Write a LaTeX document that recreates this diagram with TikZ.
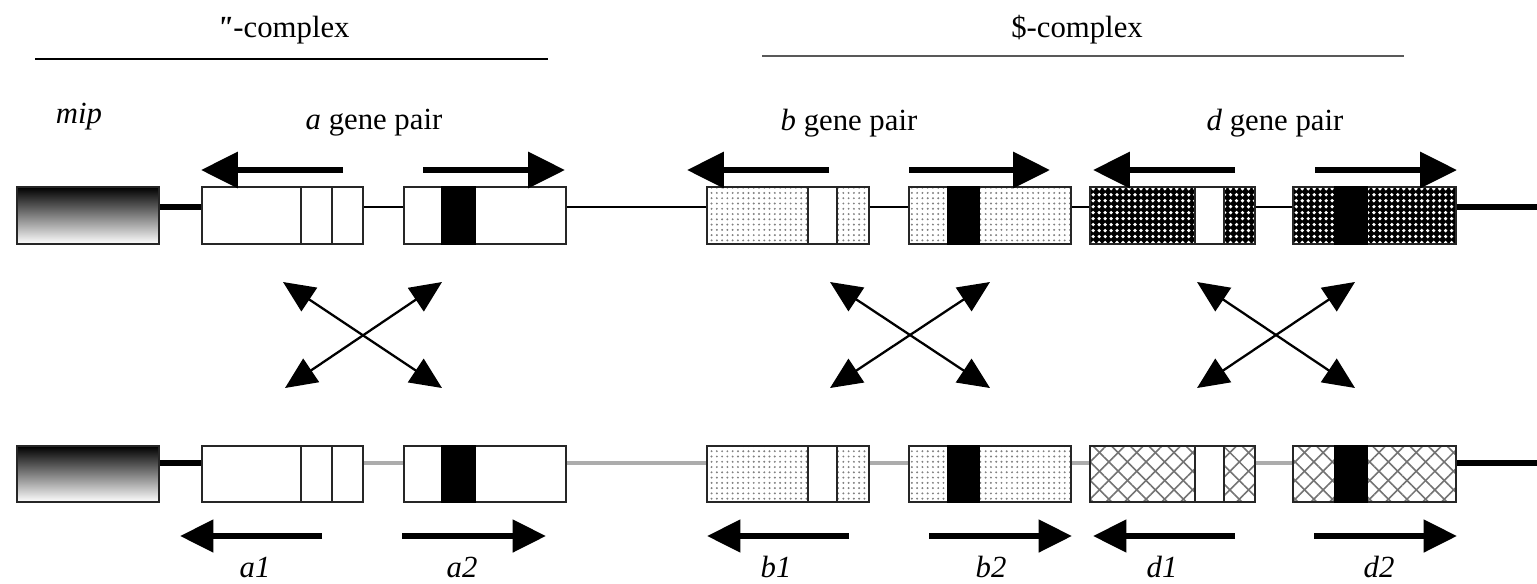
\documentclass[tikz,border=0pt]{standalone}
\usepackage{fontspec}
\setmainfont{Liberation Serif}
\newfontfamily\qfont{Liberation Serif}
\usetikzlibrary{arrows.meta,patterns,patterns.meta,fit,calc}
\begin{document}
\begin{tikzpicture}[x=0.02cm,y=-0.02cm,
  box/.style={draw=black!85, line width=1pt, inner sep=0pt},
  gtext/.style={font=\fontsize{17.5}{20}\selectfont, inner sep=0pt},
  toparrow/.style={line width=3.4pt, -{Triangle[length=21pt,width=20pt]}},
  lowarrow/.style={line width=3.4pt, -{Triangle[length=19pt,width=18pt]}},
  crossarrow/.style={line width=1.3pt, {Triangle[length=18pt,width=16pt]}-{Triangle[length=18pt,width=16pt]}},
  toplink/.style={line width=1.1pt, draw=black},
  lowlink/.style={line width=2pt, draw=gray!65},
  thicklink/.style={line width=3.4pt, draw=black},
  divider/.style={line width=1pt, draw=black!85},
  band/.style={line width=1pt, draw=black!85, fill=white},
  bar/.style={line width=1pt, draw=black, fill=black},
  dotsfill/.style={pattern={Dots[distance=3pt,radius=0.62pt]}, pattern color=gray},
  checkfill/.style={preaction={fill=black}, pattern={Dots[distance=3.4pt,radius=1.05pt]}, pattern color=white},
  diamondfill/.style={preaction={pattern={Lines[angle=45,distance=7.5pt,line width=0.9pt]}, pattern color=black!55},
                      pattern={Lines[angle=-45,distance=7.5pt,line width=0.9pt]}, pattern color=black!55}
]
\useasboundingbox (0,0) rectangle (1537,583);

% headers
\node[gtext] (alphaT) at (283,30) {{\qfont\bfseries\itshape "}-complex};
\node[gtext] (betaT) at (1077,30) {\$-complex};
\coordinate (al1) at (35,59);
\coordinate (al2) at (548,59);
\coordinate (be1) at (762,56);
\coordinate (be2) at (1404,56);
\draw[line width=1.1pt] (al1) -- (al2);
\draw[line width=1.6pt, draw=black!65] (be1) -- (be2);

\node[gtext] (mipT) at (79,117) {\textit{mip}};
\node[gtext] (aPair) at (374,123) {\textit{a} gene pair};
\node[gtext] (bPair) at (849,123) {\textit{b} gene pair};
\node[gtext] (dPair) at (1275,123) {\textit{d} gene pair};

% rows of boxes
\foreach \yt/\yb/\yc/\r/\dfill/\lk in {187/244/207/t/checkfill/toplink, 446/502/463/b/diamondfill/lowlink}{
  \node[box, top color=black, bottom color=white, fit={(17,\yt)(159,\yb)}] (mip\r) {};
  \node[box, fill=white, fit={(202,\yt)(363,\yb)}] (aa\r) {};
  \node[box, fill=white, fit={(404,\yt)(566,\yb)}] (ab\r) {};
  \node[box, dotsfill, fit={(707,\yt)(869,\yb)}] (ba\r) {};
  \node[box, dotsfill, fit={(909,\yt)(1071,\yb)}] (bb\r) {};
  \node[box, \dfill, fit={(1090,\yt)(1255,\yb)}] (da\r) {};
  \node[box, \dfill, fit={(1293,\yt)(1456,\yb)}] (db\r) {};
  \coordinate (end\r) at (1537,\yc);
  \draw[divider] (301,\yt) -- (301,\yb);
  \draw[divider] (332,\yt) -- (332,\yb);
  \draw[bar] (442,\yt) rectangle (475,\yb);
  \draw[band] (808,\yt) rectangle (837,\yb);
  \draw[bar] (948,\yt) rectangle (979,\yb);
  \draw[band] (1195,\yt) rectangle (1224,\yb);
  \draw[bar] (1335,\yt) rectangle (1367,\yb);
  \draw[thicklink] (mip\r.east |- 0,\yc) -- (aa\r.west |- 0,\yc);
  \draw[\lk] (aa\r.east |- 0,\yc) -- (ab\r.west |- 0,\yc);
  \draw[\lk] (ab\r.east |- 0,\yc) -- (ba\r.west |- 0,\yc);
  \draw[\lk] (ba\r.east |- 0,\yc) -- (bb\r.west |- 0,\yc);
  \draw[\lk] (bb\r.east |- 0,\yc) -- (da\r.west |- 0,\yc);
  \draw[\lk] (da\r.east |- 0,\yc) -- (db\r.west |- 0,\yc);
  \draw[thicklink] (db\r.east |- 0,\yc) -- (end\r);
}

% top direction arrows
\coordinate (ta1s) at (343,170); \coordinate (ta1e) at (201,170);
\coordinate (ta2s) at (423,170); \coordinate (ta2e) at (565,170);
\coordinate (tb1s) at (829,170); \coordinate (tb1e) at (687,170);
\coordinate (tb2s) at (909,170); \coordinate (tb2e) at (1050,170);
\coordinate (td1s) at (1235,170); \coordinate (td1e) at (1093,170);
\coordinate (td2s) at (1315,170); \coordinate (td2e) at (1457,170);
\foreach \n in {ta1,ta2,tb1,tb2,td1,td2} \draw[toparrow] (\n s) -- (\n e);

% bottom direction arrows
\coordinate (ba1s) at (322,536); \coordinate (ba1e) at (180,536);
\coordinate (ba2s) at (402,536); \coordinate (ba2e) at (546,536);
\coordinate (bb1s) at (849,536); \coordinate (bb1e) at (707,536);
\coordinate (bb2s) at (929,536); \coordinate (bb2e) at (1072,536);
\coordinate (bd1s) at (1235,536); \coordinate (bd1e) at (1093,536);
\coordinate (bd2s) at (1314,536); \coordinate (bd2e) at (1457,536);
\foreach \n in {ba1,ba2,bb1,bb2,bd1,bd2} \draw[lowarrow] (\n s) -- (\n e);

% cross arrows
\coordinate (xa1) at (283,282); \coordinate (xa2) at (442,388);
\coordinate (xa3) at (442,282); \coordinate (xa4) at (285,388);
\coordinate (xb1) at (830,282); \coordinate (xb2) at (990,388);
\coordinate (xb3) at (990,282); \coordinate (xb4) at (830,388);
\coordinate (xd1) at (1197,282); \coordinate (xd2) at (1355,388);
\coordinate (xd3) at (1355,282); \coordinate (xd4) at (1197,388);
\foreach \n in {xa,xb,xd}{
  \draw[crossarrow] (\n 1) -- (\n 2);
  \draw[crossarrow] (\n 3) -- (\n 4);
}

% gene labels
\node[gtext] (la1) at (255,567) {\textit{a1}};
\node[gtext] (la2) at (462,567) {\textit{a2}};
\node[gtext] (lb1) at (776,567) {\textit{b1}};
\node[gtext] (lb2) at (991,567) {\textit{b2}};
\node[gtext] (ld1) at (1162,567) {\textit{d1}};
\node[gtext] (ld2) at (1379,567) {\textit{d2}};
\end{tikzpicture}
\end{document}
